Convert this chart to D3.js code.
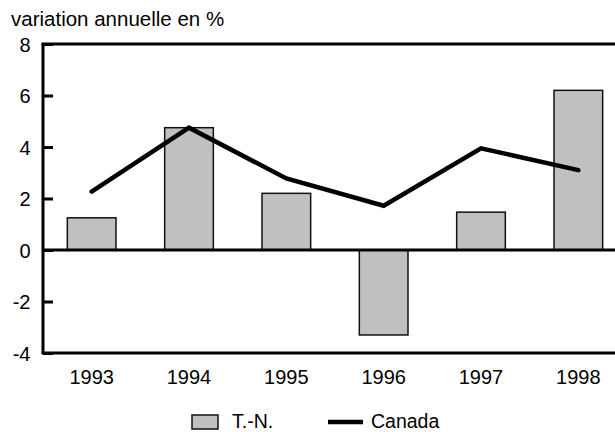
<!DOCTYPE html>
<html>
<head>
<meta charset="utf-8">
<script src="https://cdn.jsdelivr.net/npm/d3@7"></script>
<style>
  body { margin: 0; background: #fff; }
  text { font-family: "Liberation Sans", Arial, sans-serif; fill: #000; }
</style>
</head>
<body>
<svg id="chart" width="615" height="432"></svg>
<script>
// Données
const years = ['1993', '1994', '1995', '1996', '1997', '1998']
const tnValues = [1.25, 4.75, 2.2, -3.3, 1.47, 6.2]
const canadaValues = [2.27, 4.75, 2.78, 1.72, 3.95, 3.1]
const yTicks = [-4, -2, 0, 2, 4, 6, 8]

// Zone du graphique
const plotLeft = 43
const plotTop = 44
const plotWidth = 584
const plotHeight = 309
const fontSize = 20

const svg = d3.select('#chart')

const x = d3.scaleBand()
  .domain(years)
  .range([plotLeft, plotLeft + plotWidth])
  .paddingInner(0.5)
  .paddingOuter(0.25)

const y = d3.scaleLinear()
  .domain([-4, 8])
  .range([plotTop + plotHeight, plotTop])

// Titre de l'axe
svg.append('text')
  .attr('x', 11)
  .attr('y', 26)
  .attr('font-size', 20.5)
  .text('variation annuelle en %')

// Barres T.-N.
svg.append('g')
  .selectAll('rect')
  .data(tnValues)
  .enter()
  .append('rect')
  .attr('x', (d, i) => x(years[i]))
  .attr('y', d => y(Math.max(0, d)))
  .attr('width', x.bandwidth())
  .attr('height', d => Math.abs(y(d) - y(0)))
  .attr('fill', '#c0c0c0')
  .attr('stroke', '#111')
  .attr('stroke-width', 1.5)

// Axe vertical avec graduations vers l'intérieur
const yAxis = d3.axisRight(y)
  .tickValues(yTicks)
  .tickSize(10)
  .tickFormat('')

const gy = svg.append('g')
  .attr('transform', 'translate(' + plotLeft + ',0)')
  .call(yAxis)
gy.select('.domain').remove()
gy.selectAll('.tick line').attr('stroke', '#000').attr('stroke-width', 3)

svg.append('g')
  .selectAll('text')
  .data(yTicks)
  .enter()
  .append('text')
  .attr('x', 30.5)
  .attr('y', d => y(d) + 7.5)
  .attr('text-anchor', 'end')
  .attr('font-size', fontSize)
  .text(d => d)

// Cadre : gauche, haut, bas, ligne du zéro
const frame = [
  [plotLeft, plotTop, plotLeft, plotTop + plotHeight],
  [plotLeft - 1.5, plotTop, 615, plotTop],
  [plotLeft - 1.5, plotTop + plotHeight, 615, plotTop + plotHeight],
  [plotLeft, y(0), 615, y(0)]
]
svg.append('g')
  .selectAll('line')
  .data(frame)
  .enter()
  .append('line')
  .attr('x1', d => d[0])
  .attr('y1', d => d[1])
  .attr('x2', d => d[2])
  .attr('y2', d => d[3])
  .attr('stroke', '#000')
  .attr('stroke-width', 3)

// Ligne Canada
const line = d3.line()
  .x((d, i) => x(years[i]) + x.bandwidth() / 2)
  .y(d => y(d))

svg.append('path')
  .datum(canadaValues)
  .attr('d', line)
  .attr('fill', 'none')
  .attr('stroke', '#000')
  .attr('stroke-width', 4.5)
  .attr('stroke-linecap', 'round')
  .attr('stroke-linejoin', 'miter')

// Étiquettes des années
svg.append('g')
  .selectAll('text')
  .data(years)
  .enter()
  .append('text')
  .attr('x', d => x(d) + x.bandwidth() / 2)
  .attr('y', 383.5)
  .attr('text-anchor', 'middle')
  .attr('font-size', fontSize)
  .text(d => d)

// Légende
const legend = svg.append('g')
legend.append('rect')
  .attr('x', 192)
  .attr('y', 415)
  .attr('width', 26)
  .attr('height', 14)
  .attr('fill', '#c0c0c0')
  .attr('stroke', '#111')
  .attr('stroke-width', 1.5)
legend.append('text')
  .attr('x', 232)
  .attr('y', 428)
  .attr('font-size', 19.5)
  .text('T.-N.')
legend.append('line')
  .attr('x1', 328)
  .attr('x2', 363)
  .attr('y1', 422)
  .attr('y2', 422)
  .attr('stroke', '#000')
  .attr('stroke-width', 4.5)
legend.append('text')
  .attr('x', 371)
  .attr('y', 428)
  .attr('font-size', 19.5)
  .text('Canada')
</script>
</body>
</html>
